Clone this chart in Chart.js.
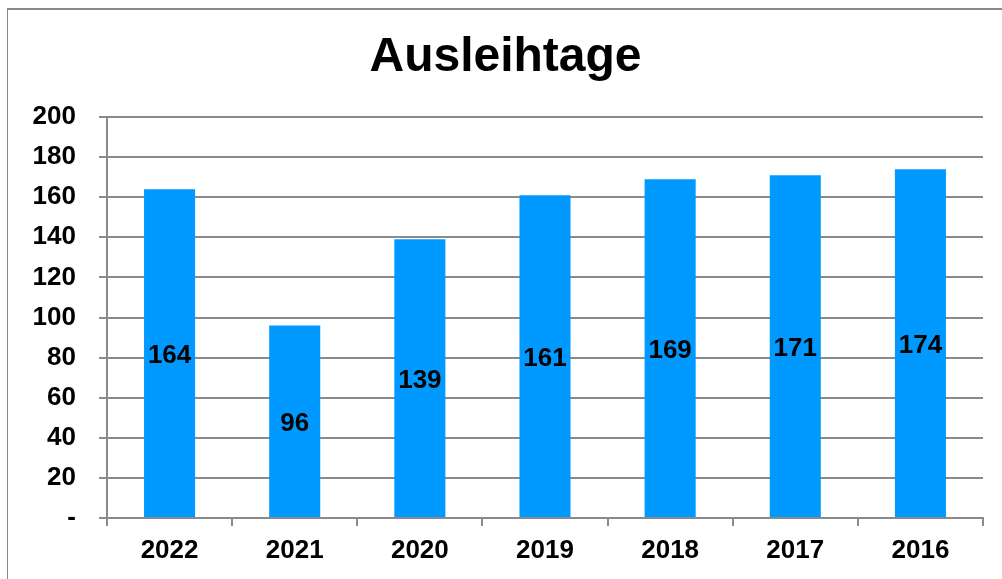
<!DOCTYPE html>
<html>
<head>
<meta charset="utf-8">
<script src="https://cdn.jsdelivr.net/npm/chart.js@4.4.0/dist/chart.umd.min.js"></script>
<style>
  html, body { margin: 0; padding: 0; background: #fff; overflow: hidden; }
  #wrap { position: relative; width: 1002px; height: 579px; }
  #frame { position: absolute; left: 7px; top: 8px; width: 1100px; height: 700px;
           border-left: 1px solid #8a8a8a; border-top: 2px solid #8a8a8a; box-sizing: border-box; pointer-events: none; }
  canvas { position: absolute; left: 0; top: 0; }
</style>
</head>
<body>
<div id="wrap">
  <canvas id="c" width="1002" height="579"></canvas>
  <div id="frame"></div>
</div>
<script>
const chartTitle = 'Ausleihtage';
const categories = ['2022', '2021', '2020', '2019', '2018', '2017', '2016'];
const values = [164, 96, 139, 161, 169, 171, 174];
const yTicks = [0, 20, 40, 60, 80, 100, 120, 140, 160, 180, 200];

const FONT = "'Liberation Sans', Arial, Helvetica, sans-serif";

const valueLabels = {
  id: 'valueLabels',
  afterDatasetsDraw(chart) {
    const ctx = chart.ctx;
    const meta = chart.getDatasetMeta(0);
    ctx.save();
    ctx.font = 'bold 26px ' + FONT;
    ctx.fillStyle = '#000';
    ctx.textAlign = 'center';
    ctx.textBaseline = 'middle';
    meta.data.forEach((bar, i) => {
      const y = (bar.y + bar.base) / 2;
      ctx.fillText(String(chart.data.datasets[0].data[i]), bar.x, y + 3);
    });
    ctx.restore();
  }
};

new Chart(document.getElementById('c'), {
  type: 'bar',
  data: {
    labels: categories,
    datasets: [{
      data: values,
      backgroundColor: '#0099FF',
      borderWidth: 0,
      categoryPercentage: 1,
      barPercentage: 0.408
    }]
  },
  options: {
    responsive: false,
    animation: false,
    events: [],
    layout: { padding: { left: 28, right: 19, top: 10, bottom: 0 } },
    plugins: {
      legend: { display: false },
      tooltip: { enabled: false },
      title: {
        display: true,
        text: chartTitle,
        color: '#000',
        font: { family: FONT, size: 48, weight: 'bold', lineHeight: 1 },
        padding: { top: 24, bottom: 35 }
      }
    },
    scales: {
      x: {
        grid: {
          offset: true,
          drawOnChartArea: false,
          drawTicks: true,
          tickLength: 8,
          color: '#8a8a8a',
          lineWidth: 2
        },
        border: { display: true, color: '#8a8a8a', width: 2 },
        ticks: {
          color: '#000',
          padding: 9,
          font: { family: FONT, size: 26, weight: 'bold' },
          maxRotation: 0
        },
        afterFit(scale) { scale.height = 61; }
      },
      y: {
        min: 0,
        max: 200,
        afterBuildTicks(scale) { scale.ticks = yTicks.map(v => ({ value: v })); },
        grid: {
          color: '#8a8a8a',
          lineWidth: 2,
          drawTicks: true,
          tickLength: 8
        },
        border: { display: true, color: '#8a8a8a', width: 2 },
        ticks: {
          color: '#000',
          padding: 23,
          font: { family: FONT, size: 26, weight: 'bold' },
          callback(v) { return v === 0 ? '-' : String(v); }
        },
        afterFit(scale) { scale.width = 79; }
      }
    }
  },
  plugins: [valueLabels]
});
</script>
</body>
</html>
